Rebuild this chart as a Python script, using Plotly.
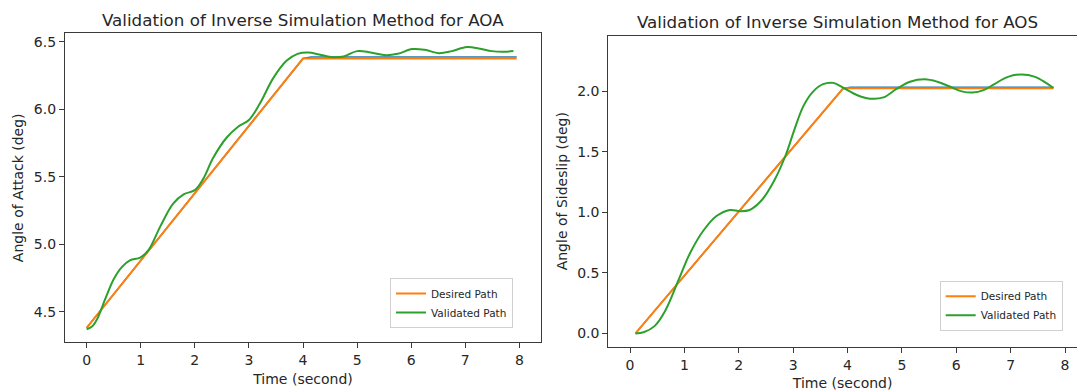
import plotly.graph_objects as go

# ---------------- data ----------------
# AOA (left)
aoa_desired_t = [0.0, 4.0, 7.95]
aoa_desired = [4.38, 6.375, 6.375]
aoa_actual_t = [0.0, 4.0, 4.15, 7.95]
aoa_actual = [4.38, 6.375, 6.387, 6.387]
aoa_valid_t = [0.0, 0.1, 0.2, 0.35, 0.5, 0.65, 0.8, 0.99, 1.15, 1.36, 1.6, 1.8,
               2.0, 2.15, 2.34, 2.59, 2.8, 3.0, 3.2, 3.45, 3.7, 3.9, 4.1, 4.3,
               4.55, 4.75, 5.0, 5.25, 5.53, 5.75, 6.02, 6.25, 6.51, 6.75, 7.03,
               7.25, 7.49, 7.7, 7.89]
aoa_valid = [4.37, 4.39, 4.45, 4.60, 4.74, 4.83, 4.88, 4.90, 4.96, 5.13, 5.30, 5.37,
             5.40, 5.48, 5.64, 5.79, 5.87, 5.92, 6.04, 6.23, 6.36, 6.41, 6.42, 6.405,
             6.385, 6.39, 6.43, 6.42, 6.40, 6.41, 6.445, 6.44, 6.415, 6.43, 6.46,
             6.45, 6.43, 6.425, 6.43]

# AOS (right)
aos_desired_t = [0.1, 3.92, 7.79]
aos_desired = [0.0, 2.025, 2.025]
aos_actual_t = [0.1, 3.92, 4.05, 7.79]
aos_actual = [0.0, 2.025, 2.035, 2.035]
aos_valid_t = [0.1, 0.25, 0.45, 0.65, 0.9, 1.1, 1.35, 1.59, 1.84, 2.02, 2.2, 2.42,
               2.66, 2.86, 3.02, 3.19, 3.37, 3.55, 3.74, 3.92, 4.17, 4.41, 4.66,
               4.9, 5.15, 5.42, 5.65, 5.88, 6.1, 6.3, 6.5, 6.7, 6.95, 7.2, 7.45,
               7.65, 7.78]
aos_valid = [0.0, 0.01, 0.06, 0.19, 0.45, 0.66, 0.85, 0.97, 1.02, 1.01, 1.02, 1.10,
             1.27, 1.47, 1.68, 1.88, 2.00, 2.06, 2.07, 2.03, 1.97, 1.94, 1.95,
             2.02, 2.08, 2.10, 2.08, 2.04, 2.00, 1.99, 2.01, 2.06, 2.12, 2.14, 2.12,
             2.07, 2.03]

x_ticks = [0, 1, 2, 3, 4, 5, 6, 7, 8]
aoa_ticks = [4.5, 5.0, 5.5, 6.0, 6.5]
aos_ticks = [0.0, 0.5, 1.0, 1.5, 2.0]

BLUE, ORANGE, GREEN = "#1f77b4", "#ff7f0e", "#2ca02c"
FONT = "DejaVu Sans"
TXT = "#262626"
SPINE = "#3a3a3a"
W, H = 1077, 392

fig = go.Figure()

# left panel
fig.add_trace(go.Scatter(x=aoa_actual_t, y=aoa_actual, mode="lines",
                         line=dict(color=BLUE, width=1.5), showlegend=False,
                         xaxis="x", yaxis="y", hoverinfo="skip"))
fig.add_trace(go.Scatter(x=aoa_desired_t, y=aoa_desired, mode="lines", name="Desired Path",
                         line=dict(color=ORANGE, width=2), xaxis="x", yaxis="y",
                         legend="legend"))
fig.add_trace(go.Scatter(x=aoa_valid_t, y=aoa_valid, mode="lines", name="Validated Path",
                         line=dict(color=GREEN, width=2, shape="spline", smoothing=1.0),
                         xaxis="x", yaxis="y", legend="legend"))

# right panel
fig.add_trace(go.Scatter(x=aos_actual_t, y=aos_actual, mode="lines",
                         line=dict(color=BLUE, width=1.5), showlegend=False,
                         xaxis="x2", yaxis="y2", hoverinfo="skip"))
fig.add_trace(go.Scatter(x=aos_desired_t, y=aos_desired, mode="lines", name="Desired Path",
                         line=dict(color=ORANGE, width=2), xaxis="x2", yaxis="y2",
                         legend="legend2"))
fig.add_trace(go.Scatter(x=aos_valid_t, y=aos_valid, mode="lines", name="Validated Path",
                         line=dict(color=GREEN, width=2, shape="spline", smoothing=1.0),
                         xaxis="x2", yaxis="y2", legend="legend2"))

axis_common = dict(showgrid=False, zeroline=False, showline=True, linecolor=SPINE,
                   linewidth=1.2, ticks="outside", ticklen=5, tickwidth=1,
                   tickcolor=SPINE, tickfont=dict(family=FONT, size=14, color=TXT))

title_font = dict(family=FONT, size=14, color=TXT)
legend_common = dict(xanchor="left", yanchor="top", bgcolor="rgba(255,255,255,0.8)",
                     bordercolor="#d0d0d0", borderwidth=1, tracegroupgap=0,
                     font=dict(family=FONT, size=10.5, color=TXT))

fig.update_layout(
    width=W, height=H, autosize=False,
    margin=dict(l=0, r=0, t=0, b=0),
    paper_bgcolor="white", plot_bgcolor="white",
    xaxis=dict(axis_common, domain=[65 / W, 541 / W], range=[-0.4, 8.4],
               tickvals=x_ticks, mirror=True, anchor="y",
               title=dict(text="Time (second)", font=title_font, standoff=6)),
    yaxis=dict(axis_common, domain=[(H - 342.3) / H, (H - 33.3) / H],
               range=[4.273, 6.562], tickvals=aoa_ticks, tickformat=".1f",
               mirror=True, anchor="x",
               title=dict(text="Angle of Attack (deg)", font=title_font, standoff=6)),
    xaxis2=dict(axis_common, domain=[608.3 / W, 1.0], range=[-0.4, 8.22],
                tickvals=x_ticks, mirror=True, anchor="y2",
                title=dict(text="Time (second)", font=title_font, standoff=6)),
    yaxis2=dict(axis_common, domain=[(H - 346.7) / H, (H - 35.7) / H],
                range=[-0.11, 2.46], tickvals=aos_ticks, tickformat=".1f",
                mirror=False, anchor="x2",
                title=dict(text="Angle of Sideslip (deg)", font=title_font, standoff=6)),
    legend=dict(legend_common, x=390 / W, y=1 - 278 / H),
    legend2=dict(legend_common, x=939.7 / W, y=1 - 280.7 / H),
    annotations=[
        dict(text="Validation of Inverse Simulation Method for AOA", x=303 / W,
             y=1 - 19.5 / H, xref="paper", yref="paper", xanchor="center",
             yanchor="middle", showarrow=False,
             font=dict(family=FONT, size=16.7, color=TXT)),
        dict(text="Validation of Inverse Simulation Method for AOS", x=838 / W,
             y=1 - 21.7 / H, xref="paper", yref="paper", xanchor="center",
             yanchor="middle", showarrow=False,
             font=dict(family=FONT, size=16.7, color=TXT)),
    ],
)

fig.write_html("out.html")
